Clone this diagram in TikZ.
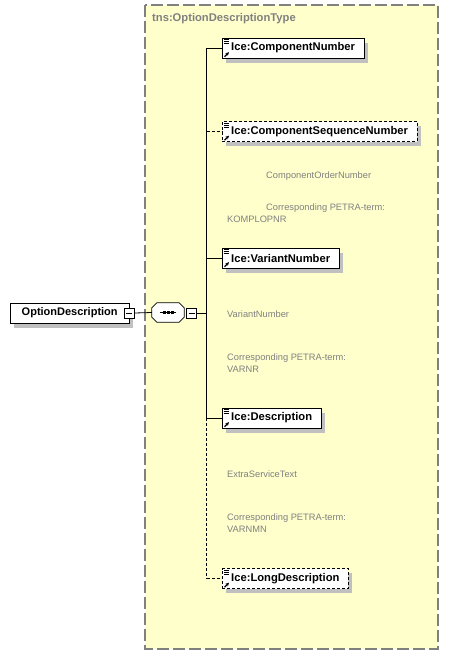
\documentclass[tikz,border=0pt]{standalone}
\usepackage{fontspec}
\setmainfont{Liberation Sans}
\usetikzlibrary{shadows,arrows.meta}
\definecolor{bgy}{RGB}{255,255,204}
\definecolor{bord}{RGB}{128,128,128}
\definecolor{anncol}{RGB}{128,128,128}
\definecolor{shad}{RGB}{192,192,192}
\newcommand\elicons[1]{%
  \foreach \k in {2,4,6} \draw[line width=0.8pt] ([xshift=2pt,yshift=-\k pt]#1.north west) -- ++(5,0);
  \draw[-{Stealth[length=3.5pt,width=3.5pt]}, line width=1.2pt] ([xshift=2.5pt,yshift=1.5pt]#1.south west) -- ++(4.5,-4.5);
}
\begin{document}
\begin{tikzpicture}[x=1pt,y=-1pt,
  elem/.style={draw, fill=white, minimum height=20pt, inner xsep=9pt, inner ysep=0pt, anchor=west,
     font=\bfseries\fontsize{11.2}{13}\selectfont,
     general shadow={fill=shad, shadow xshift=4pt, shadow yshift=-4.5pt}},
  optelem/.style={elem, dash pattern=on 3pt off 2pt},
  mbox/.style={draw, fill=white, minimum size=10pt, inner sep=0pt,
     path picture={\draw ([xshift=-3pt]path picture bounding box.center) -- ++(6,0);}},
  ann/.style={anchor=west, inner sep=0pt, text=anncol, font=\fontsize{9.3}{11}\selectfont},
  conn/.style={line width=0.8pt},
  optconn/.style={line width=0.8pt, dash pattern=on 3pt off 2pt}
]
\useasboundingbox (0,0) rectangle (449,656);
% container
\path[fill=bgy, draw=bord, line width=1.5pt, dash pattern=on 12pt off 4pt] (145,5) rectangle (438,649);
\node[anchor=west, inner sep=0pt, text=bord, font=\bfseries\fontsize{11.2}{13}\selectfont] (title) at (152,19) {tns:OptionDescriptionType};

% root element
\node[elem, minimum width=119pt, inner xsep=10pt, font=\bfseries\fontsize{11}{13}\selectfont] (od) at (10,313) {OptionDescription};
\node[mbox] (odm) at (od.east) {};

% sequence compositor
\node[minimum width=32pt, minimum height=19pt, inner sep=0pt] (seq) at (168,312.5) {};
\draw[fill=white, line width=0.8pt]
  ([yshift=-5pt]seq.north west) -- ([xshift=5pt]seq.north west) -- ([xshift=-5pt]seq.north east)
  -- ([yshift=-5pt]seq.north east) -- ([yshift=5pt]seq.south east) -- ([xshift=-5pt]seq.south east)
  -- ([xshift=5pt]seq.south west) -- ([yshift=5pt]seq.south west) -- cycle;
\draw[line width=0.8pt] ([xshift=-8pt]seq.center) -- ([xshift=8pt]seq.center);
\foreach \d in {-4,0,4} \fill ([xshift=\d pt]seq.center) +(-1.5,-1.5) rectangle +(1.5,1.5);
\node[mbox] (seqm) at (191.5,313) {};

\draw[conn] (odm.east) -- (seq.west);
\coordinate (sp) at (206.5,313);
\draw[conn] (seqm.east) -- (sp);

% child elements
\node[elem] (cn) at (222,48) {Ice:ComponentNumber};
\node[optelem] (csn) at (222,131.5) {Ice:ComponentSequenceNumber};
\node[elem] (vn) at (222,258) {Ice:VariantNumber};
\node[elem] (de) at (222,418) {Ice:Description};
\node[optelem] (ld) at (222,578.5) {Ice:LongDescription};
\foreach \n in {cn,csn,vn,de,ld} {\elicons{\n}}

% spine and connectors
\draw[conn] (sp |- cn.west) -- (sp |- de.west);
\draw[optconn] (sp |- de.west) -- (sp |- ld.west);
\draw[conn] (sp |- cn.west) -- (cn.west);
\draw[optconn] (sp |- csn.west) -- (csn.west);
\draw[conn] (sp |- vn.west) -- (vn.west);
\draw[conn] (sp |- de.west) -- (de.west);
\draw[optconn] (sp |- ld.west) -- (ld.west);

% annotations
\node[ann] (a1) at (266,176) {ComponentOrderNumber};
\node[ann] (a2) at (266,208) {Corresponding PETRA-term:};
\node[ann] (a3) at (227,219) {KOMPLOPNR};
\node[ann] (b1) at (227,314) {VariantNumber};
\node[ann] (b2) at (227,358) {Corresponding PETRA-term:};
\node[ann] (b3) at (227,369) {VARNR};
\node[ann] (c1) at (227,474) {ExtraServiceText};
\node[ann] (c2) at (227,518) {Corresponding PETRA-term:};
\node[ann] (c3) at (227,529) {VARNMN};
\end{tikzpicture}
\end{document}
